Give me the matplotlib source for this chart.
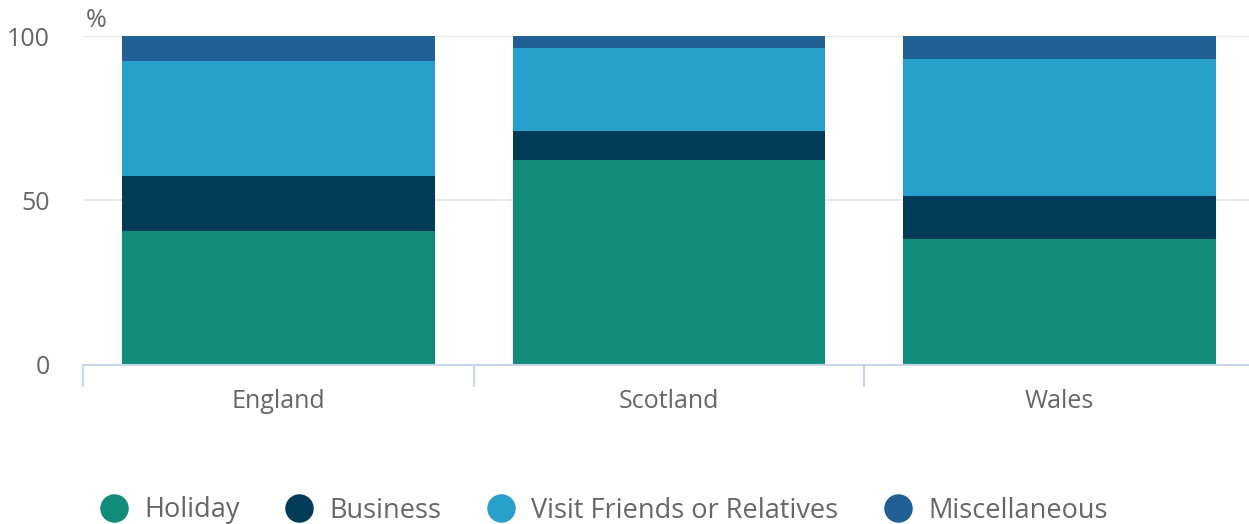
import matplotlib.pyplot as plt
import numpy as np

plt.rcParams['font.family'] = ['Open Sans', 'DejaVu Sans']

# Data (share of visits by purpose, %)
countries = ['England', 'Scotland', 'Wales']
series_names = ['Holiday', 'Business', 'Visit Friends or Relatives', 'Miscellaneous']
holiday = [40.5, 62.2, 38.3]
business = [16.9, 8.9, 13.0]
vfr = [34.9, 25.3, 41.7]
misc = [7.7, 3.6, 7.0]
colors = ['#118c7b', '#003c57', '#27a0cc', '#206095']

text_grey = '#666666'
axis_col = '#ccd6eb'

fig = plt.figure(figsize=(12.49, 5.24), dpi=100)
# the plot area runs slightly past the right edge of the image
ax = fig.add_axes([83.25 / 1249, 1 - 364.5 / 524, 1171.5 / 1249, 328.5 / 524])

x = np.arange(len(countries))
bottom = np.zeros(len(countries))
for name, vals, c in zip(series_names, [holiday, business, vfr, misc], colors):
    ax.bar(x, vals, width=0.8, bottom=bottom, color=c, label=name, zorder=3)
    bottom += np.array(vals)

ax.set_xlim(-0.5, 2.5)
ax.set_ylim(0, 100)

# gridlines
ax.set_yticks([0, 50, 100])
ax.yaxis.grid(True, color='#e6e6e6', linewidth=1.3, zorder=0)
ax.tick_params(axis='y', length=0, pad=24, labelsize=18, labelcolor=text_grey)

# x axis: category labels, ticks on category boundaries
ax.set_xticks(x)
ax.set_xticklabels(countries)
ax.set_xticks(np.arange(-0.5, 3, 1), minor=True)
ax.tick_params(axis='x', which='major', length=0, pad=18, labelsize=18, labelcolor=text_grey)
ax.tick_params(axis='x', which='minor', length=16, width=1.5, color=axis_col)

for s in ['top', 'right', 'left']:
    ax.spines[s].set_visible(False)
ax.spines['bottom'].set_color(axis_col)
ax.spines['bottom'].set_linewidth(1.5)
ax.spines['bottom'].set_zorder(4)

ax.text(0.002, 1.046, '%', transform=ax.transAxes, fontsize=18, color=text_grey,
        ha='left', va='center')

# legend with circle markers
handles = [plt.Line2D([], [], marker='o', linestyle='none', markersize=19.5,
                      markerfacecolor=c, markeredgecolor=c) for c in colors]
fig.legend(handles, series_names, loc='center', bbox_to_anchor=(604 / 1249, 1 - 510.5 / 524),
           ncol=4, frameon=False, fontsize=19.5, labelcolor=text_grey,
           handletextpad=0.62, columnspacing=1.7, handlelength=1.0,
           borderpad=0, borderaxespad=0)

fig.savefig('out.png', dpi=100)
